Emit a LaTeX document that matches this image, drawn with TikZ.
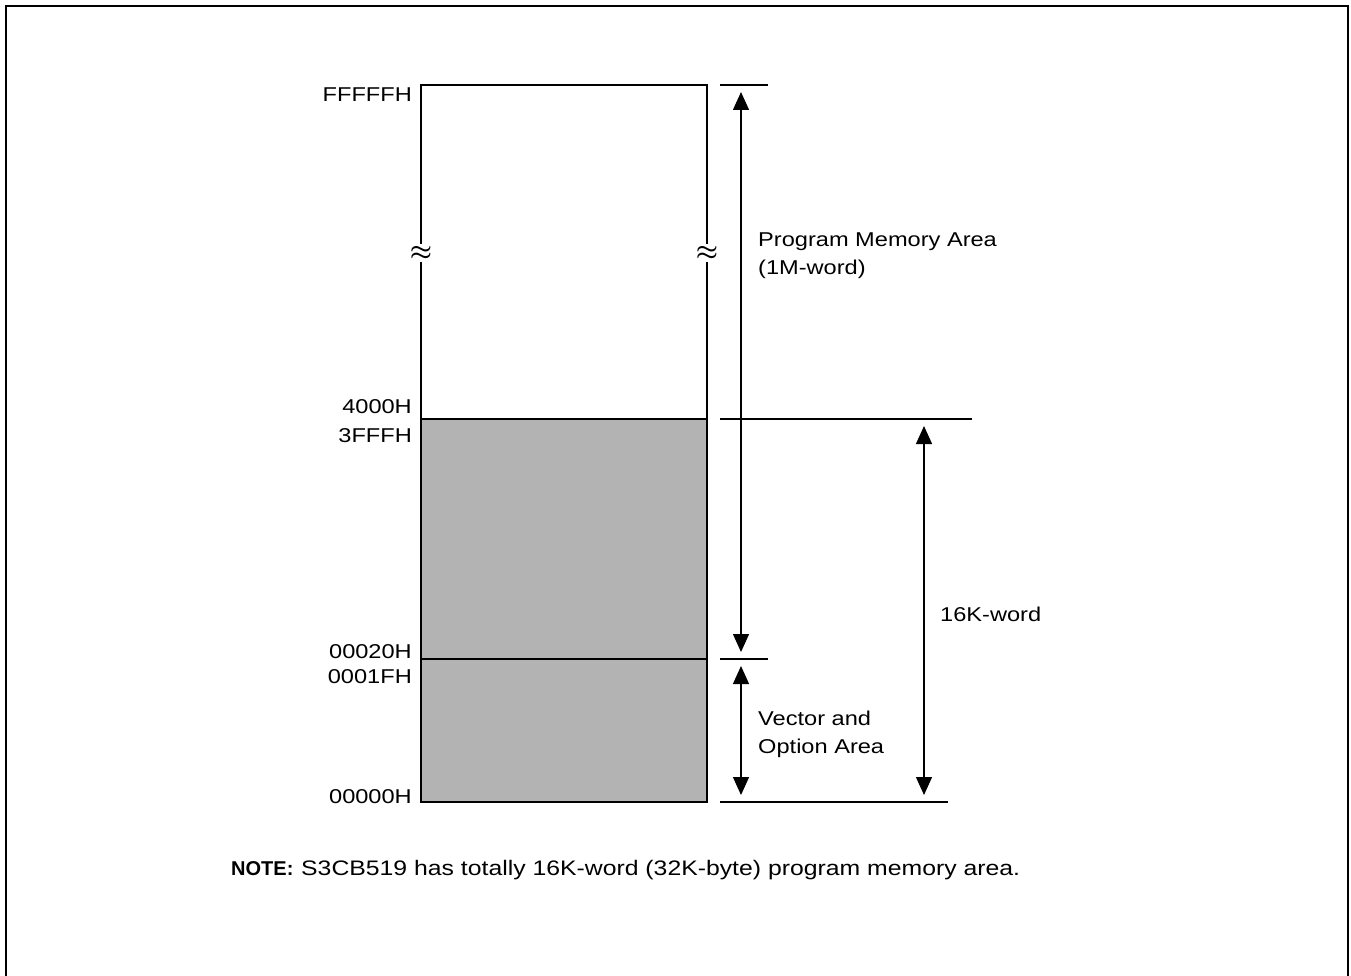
\documentclass[tikz,border=0pt]{standalone}
\usepackage{fontspec}
\setmainfont{Liberation Sans}[FakeStretch=1.18]
\newfontfamily\notefont{Liberation Sans}
\usetikzlibrary{arrows.meta}

\definecolor{memgray}{RGB}{179,179,179}

\begin{document}
\begin{tikzpicture}[x=1pt, y=-1pt,
  every node/.style={font=\fontsize{20}{28}\selectfont, inner sep=0pt},
  addr/.style={anchor=base east},
  lbl/.style={anchor=base west},
  thin/.style={line width=1.3pt},
  dim/.style={{Triangle[width=16pt,length=18pt]}-{Triangle[width=16pt,length=18pt]},
              line width=1.3pt, shorten <=7pt, shorten >=7pt},
  brk/.style={fill=white, inner xsep=1pt, inner ysep=2pt, font=\fontsize{27}{27}\selectfont\boldmath}
]
  \useasboundingbox (0,0) rectangle (1351,976);
  % outer frame
  \draw[line width=2pt] (6,976) -- (6,6) -- (1348,6) -- (1348,976);

  % memory column
  \coordinate (tl) at (421,85);
  \coordinate (tr) at (707,85);
  \coordinate (bl) at (421,802);
  \coordinate (br) at (707,802);
  \coordinate (l4000) at (421,419);
  \coordinate (r4000) at (707,419);
  \coordinate (l0020) at (421,659);
  \coordinate (r0020) at (707,659);

  \fill[memgray] (l4000) rectangle (br);
  \node[brk] (brkL) at (421,253) {$\approx$};
  \node[brk] (brkR) at (707,253) {$\approx$};
  \draw[thin] (brkL) -- (tl) -- (tr) -- (brkR);
  \draw[thin] (brkL) -- (bl) -- (br) -- (brkR);
  \draw[thin] (l4000) -- (r4000);
  \draw[thin] (l0020) -- (r0020);

  % addresses
  \node[addr] (aFFFFF) at (412,102) {FFFFFH};
  \node[addr] (a4000)  at (412,413) {4000H};
  \node[addr] (a3FFF)  at (412,442) {3FFFH};
  \node[addr] (a0020)  at (412,658) {00020H};
  \node[addr] (a001F)  at (412,683) {0001FH};
  \node[addr] (a0000)  at (412,803) {00000H};

  % dimension lines
  \coordinate (pTop) at (741,85);
  \coordinate (pMid) at (741,659);
  \coordinate (pBot) at (741,802);
  \coordinate (kTop) at (924,419);
  \coordinate (kBot) at (924,802);
  \draw[thin] (720,85) -- (768,85);
  \draw[thin] (720,659) -- (768,659);
  \draw[thin] (720,419) -- (972,419);
  \draw[thin] (720,802) -- (948,802);
  \draw[dim] (pTop) -- (pMid);
  \draw[dim] (pMid) -- (pBot);
  \draw[dim] (kTop) -- (kBot);

  % area labels
  \node[lbl] (prog1) at (758,247) {Program Memory Area};
  \node[lbl] (prog2) at (758,275) {(1M-word)};
  \node[lbl] (k16)   at (940,621) {16K-word};
  \node[lbl] (vec1)  at (758,725) {Vector and};
  \node[lbl] (vec2)  at (758,753) {Option Area};

  % note
  \node[lbl] (notehd)  at (231,875) {\notefont\bfseries NOTE:};
  \node[lbl, font=\fontsize{21}{28}\selectfont] (notetxt) at (301,875)
    {S3CB519 has totally 16K-word (32K-byte) program memory area.};
\end{tikzpicture}
\end{document}
